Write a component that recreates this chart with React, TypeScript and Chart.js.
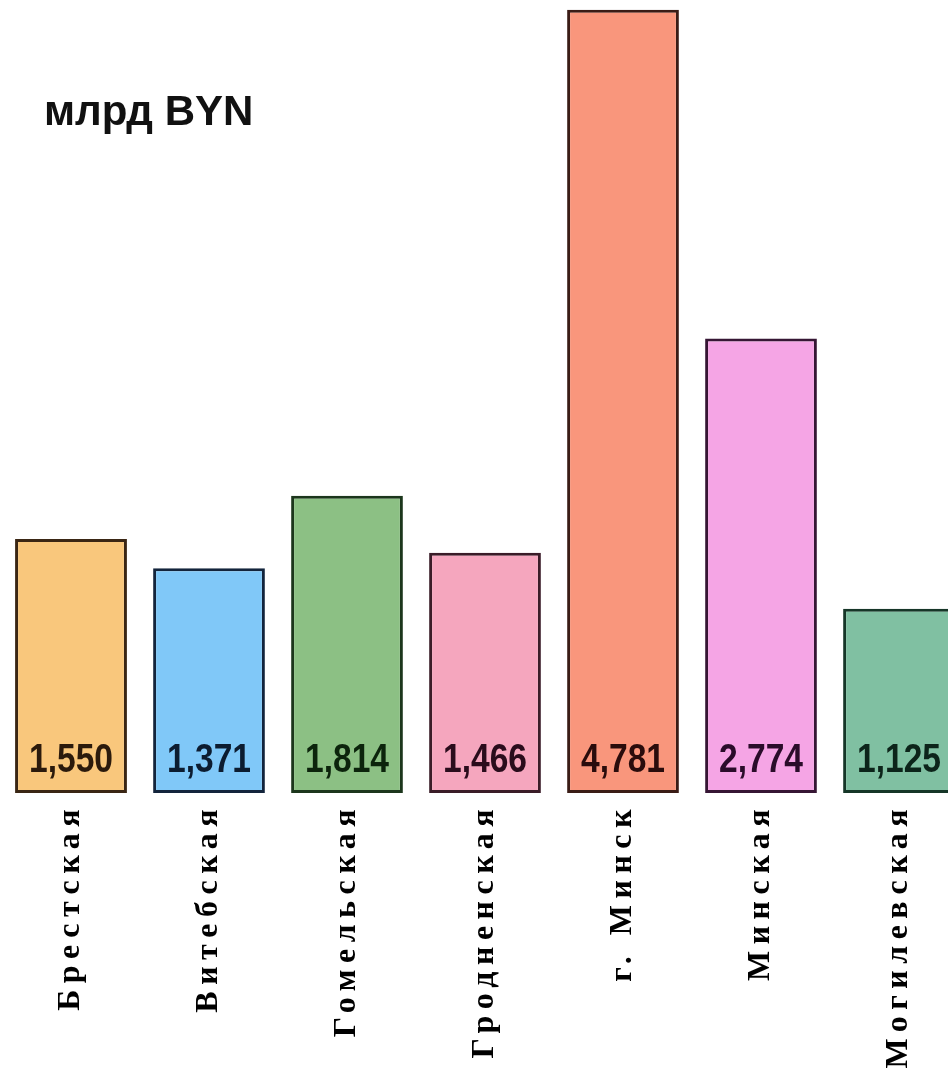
import React, { useEffect, useRef } from "react";
import { Chart, registerables } from "chart.js";

Chart.register(...registerables);

const categories = ["Брестская", "Витебская", "Гомельская", "Гродненская", "г. Минск", "Минская", "Могилевская"];
const values = [1550, 1371, 1814, 1466, 4781, 2774, 1125];
const valueLabels = ["1,550", "1,371", "1,814", "1,466", "4,781", "2,774", "1,125"];
const barColors = ["#F9C77C", "#80C8F8", "#8CC084", "#F5A6BE", "#F9967C", "#F5A5E5", "#80C0A2"];
const borderColors = ["#3a2614", "#13243c", "#1c361c", "#3a1c28", "#3a1c16", "#361634", "#163628"];
const labelColors = ["#2b1a0c", "#0c1c30", "#0c240c", "#2a0c1c", "#2a0c0c", "#2a0c2a", "#0c241a"];
const unitText = "млрд BYN";

const W = 970;
const H = 1069;

export default function App() {
  const ref = useRef<HTMLCanvasElement | null>(null);

  useEffect(() => {
    const canvas = ref.current;
    if (!canvas) return;

    const spacingPlugin = {
      id: "spacing",
      beforeDraw(chart: any) {
        chart.ctx.letterSpacing = "6.5px";
      },
      beforeDatasetsDraw(chart: any) {
        chart.ctx.letterSpacing = "0px";
      },
      afterDatasetsDraw(chart: any) {
        const ctx = chart.ctx;
        const meta = chart.getDatasetMeta(0);
        meta.data.forEach((bar: any, i: number) => {
          ctx.save();
          ctx.letterSpacing = "0px";
          ctx.font = "bold 40px 'Liberation Sans', Arial, sans-serif";
          ctx.textAlign = "center";
          ctx.textBaseline = "alphabetic";
          ctx.fillStyle = labelColors[i];
          ctx.translate(bar.x, bar.base - 21);
          ctx.scale(0.84, 1);
          ctx.fillText(valueLabels[i], 0, 0);
          ctx.restore();
        });
      },
    };

    const chart = new Chart(canvas, {
      type: "bar",
      data: {
        labels: categories,
        datasets: [
          {
            data: values,
            backgroundColor: barColors,
            borderColor: borderColors,
            borderWidth: 3,
            borderSkipped: false,
            categoryPercentage: 1,
            barPercentage: 0.81,
          },
        ],
      },
      options: {
        responsive: false,
        animation: false,
        devicePixelRatio: 1,
        layout: { padding: { left: 2, right: 2, top: 0, bottom: 0 } },
        plugins: {
          legend: { display: false },
          title: { display: false },
          tooltip: { enabled: false },
        },
        scales: {
          x: {
            grid: { display: false, drawTicks: false },
            border: { display: false },
            ticks: {
              color: "#000",
              font: { family: "'Liberation Serif', 'Times New Roman', serif", size: 32, weight: "bold" },
              minRotation: 90,
              maxRotation: 90,
              autoSkip: false,
              padding: 10,
            },
            afterFit(scale: any) {
              scale.height = 276;
            },
          },
          y: {
            display: false,
            min: 0,
            max: 4840,
          },
        },
      },
      plugins: [spacingPlugin],
    });

    return () => chart.destroy();
  }, []);

  return (
    <div style={{ position: "fixed", left: 0, top: 0, width: 948, height: 1069, overflow: "hidden", background: "#fff" }}>
      <canvas ref={ref} width={W} height={H} style={{ width: W, height: H, display: "block" }} />
      <div
        style={{
          position: "absolute",
          left: 44,
          top: 86,
          fontFamily: "'Liberation Sans', Arial, sans-serif",
          fontWeight: "bold",
          fontSize: 42,
          lineHeight: "50px",
          color: "#111",
          whiteSpace: "nowrap",
        }}
      >
        {unitText}
      </div>
    </div>
  );
}
